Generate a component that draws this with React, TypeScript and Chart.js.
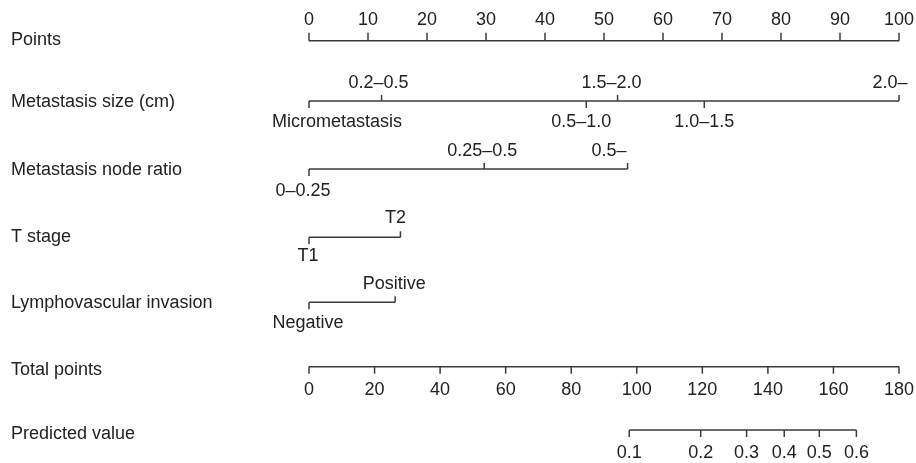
import React, { useEffect, useRef } from 'react';
import { Chart, registerables } from 'chart.js';

Chart.register(...registerables);

// ---------- data ----------
const rowNames = [
  'Points',
  'Metastasis size (cm)',
  'Metastasis node ratio',
  'T stage',
  'Lymphovascular invasion',
  'Total points',
  'Predicted value',
];
const pointsTicks = [0, 10, 20, 30, 40, 50, 60, 70, 80, 90, 100];
const sizeLabels = ['Micrometastasis', '0.2–0.5', '0.5–1.0', '1.5–2.0', '1.0–1.5', '2.0–'];
const sizePoints = [0, 12.3, 47.0, 52.3, 67.0, 100];
const ratioLabels = ['0–0.25', '0.25–0.5', '0.5–'];
const ratioPoints = [0, 29.7, 54.0];
const tStageLabels = ['T1', 'T2'];
const tStagePoints = [0, 15.5];
const lviLabels = ['Negative', 'Positive'];
const lviPoints = [0, 14.6];
const totalTicks = [0, 20, 40, 60, 80, 100, 120, 140, 160, 180];
const predictedLabels = ['0.1', '0.2', '0.3', '0.4', '0.5', '0.6'];
const predictedTotals = [97.7, 119.5, 133.5, 145.0, 155.7, 167.0];

// ---------- layout / style ----------
const W = 908;
const H = 455;
const LINE_Y = [32.7, 93, 161, 229.3, 294.3, 358.7, 422];
const NAME_Y = [32.3, 94.5, 162, 229, 295, 361.7, 426];
const FONT = '18px "Liberation Sans", Arial, Helvetica, sans-serif';
const TEXT = '#222222';
const LINE = '#3a3a3a';

type Row = {
  axis: string;
  values: number[];
  labels: string[];
  sides: ('up' | 'down')[];
  dx: number[];
  tickUp: number;
  tickDown: number;
  upOff: number;
  downOff: number;
};

const allUp = (n: number) => Array.from({ length: n }, () => 'up' as const);
const allDown = (n: number) => Array.from({ length: n }, () => 'down' as const);
const zeros = (n: number) => Array.from({ length: n }, () => 0);

const rows: Row[] = [
  {
    axis: 'x', values: pointsTicks, labels: pointsTicks.map(String),
    sides: allUp(pointsTicks.length), dx: zeros(pointsTicks.length),
    tickUp: 8, tickDown: 7, upOff: 20.5, downOff: 21.5,
  },
  {
    axis: 'x', values: sizePoints, labels: sizeLabels,
    sides: ['down', 'up', 'down', 'up', 'down', 'up'], dx: [28, -3, -5, -6, 0, -9],
    tickUp: 6, tickDown: 7, upOff: 18, downOff: 21.5,
  },
  {
    axis: 'x', values: ratioPoints, labels: ratioLabels,
    sides: ['down', 'up', 'up'], dx: [-6, -2, -18.5],
    tickUp: 6, tickDown: 7, upOff: 18, downOff: 22,
  },
  {
    axis: 'x', values: tStagePoints, labels: tStageLabels,
    sides: ['down', 'up'], dx: [-1, -5],
    tickUp: 6, tickDown: 7, upOff: 19, downOff: 19,
  },
  {
    axis: 'x', values: lviPoints, labels: lviLabels,
    sides: ['down', 'up'], dx: [-1, -1],
    tickUp: 6, tickDown: 7, upOff: 18.5, downOff: 21,
  },
  {
    axis: 'x2', values: totalTicks, labels: totalTicks.map(String),
    sides: allDown(totalTicks.length), dx: zeros(totalTicks.length),
    tickUp: 7, tickDown: 7, upOff: 18, downOff: 23,
  },
  {
    axis: 'x2', values: predictedTotals, labels: predictedLabels,
    sides: allDown(predictedTotals.length), dx: zeros(predictedTotals.length),
    tickUp: 7, tickDown: 7, upOff: 18, downOff: 23,
  },
];

const nomogramPlugin = {
  id: 'nomogram',
  afterDatasetsDraw(chart: any) {
    const ctx = chart.ctx as CanvasRenderingContext2D;
    const ys = chart.scales.y;
    ctx.save();
    ctx.font = FONT;
    ctx.fillStyle = TEXT;
    ctx.strokeStyle = LINE;
    ctx.lineWidth = 1.5;
    rows.forEach((r, i) => {
      const y = ys.getPixelForValue(LINE_Y[i]);
      ctx.textAlign = 'left';
      ctx.textBaseline = 'middle';
      ctx.fillText(rowNames[i], 3, ys.getPixelForValue(NAME_Y[i]));
      const sx = chart.scales[r.axis];
      r.values.forEach((v, j) => {
        const x = sx.getPixelForValue(v);
        const up = r.sides[j] === 'up';
        ctx.beginPath();
        ctx.moveTo(x, y);
        ctx.lineTo(x, up ? y - r.tickUp : y + r.tickDown);
        ctx.stroke();
        ctx.textAlign = 'center';
        ctx.textBaseline = 'middle';
        ctx.fillText(r.labels[j], x + r.dx[j], up ? y - r.upOff : y + r.downOff);
      });
    });
    ctx.restore();
  },
};

export default function App() {
  const ref = useRef<HTMLCanvasElement | null>(null);

  useEffect(() => {
    if (!ref.current) return;
    const datasets = rows.map((r, i) => ({
      label: rowNames[i],
      data: [
        { x: Math.min(...r.values), y: LINE_Y[i] },
        { x: Math.max(...r.values), y: LINE_Y[i] },
      ],
      xAxisID: r.axis,
      yAxisID: 'y',
      showLine: true,
      borderColor: LINE,
      borderWidth: 1.5,
      pointRadius: 0,
      fill: false,
    }));
    const chart = new Chart(ref.current, {
      type: 'scatter',
      data: { datasets },
      options: {
        animation: false,
        responsive: true,
        maintainAspectRatio: false,
        events: [],
        layout: { padding: { left: 301, right: 17, top: 0, bottom: 0 } },
        plugins: { legend: { display: false }, tooltip: { enabled: false } },
        scales: {
          x: { type: 'linear', min: 0, max: 100, display: false },
          x2: { type: 'linear', min: 0, max: 180, display: false },
          y: { type: 'linear', min: 0, max: H, reverse: true, display: false },
        },
      },
      plugins: [nomogramPlugin],
    } as any);
    return () => chart.destroy();
  }, []);

  return (
    <div style={{ position: 'absolute', left: 8, top: 8, width: W, height: H }}>
      <canvas ref={ref} />
    </div>
  );
}
